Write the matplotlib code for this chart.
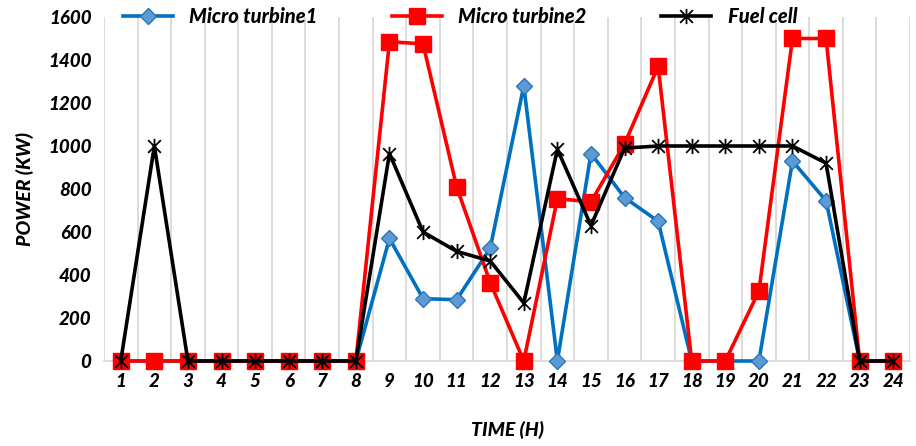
import numpy as np
import matplotlib.pyplot as plt
from matplotlib.path import Path

hours = list(range(1, 25))
micro_turbine1 = [0, 0, 0, 0, 0, 0, 0, 0, 570, 290, 285, 525, 1280, 0,
                  965, 760, 650, 0, 0, 0, 930, 745, 0, 0]
micro_turbine2 = [0, 0, 0, 0, 0, 0, 0, 0, 1485, 1475, 810, 365, 0, 755,
                  740, 1010, 1370, 0, 0, 325, 1500, 1500, 0, 0]
fuel_cell = [0, 1000, 0, 0, 0, 0, 0, 0, 965, 600, 510, 465, 270, 985,
             630, 990, 1000, 1000, 1000, 1000, 1000, 920, 0, 0]
y_ticks = [0, 200, 400, 600, 800, 1000, 1200, 1400, 1600]

plt.rcParams['font.family'] = ['Lato', 'DejaVu Sans']
W = 900

# excel style star: X plus vertical bar
star = Path([(-1, -1), (1, 1), (-1, 1), (1, -1), (0, -1.2), (0, 1.2)],
            [Path.MOVETO, Path.LINETO, Path.MOVETO, Path.LINETO, Path.MOVETO, Path.LINETO])

fig = plt.figure(figsize=(9.16, 4.46), dpi=100, facecolor="white")
ax = fig.add_axes([0.1135, 0.1906, 0.88, 0.7713])

for b in np.arange(0.5, 25, 1):
    ax.axvline(b, color="#d9d9d9", lw=1.3, zorder=0)

ax.plot(hours, micro_turbine1, color="#0070c0", lw=2.6, marker="D", ms=8,
        mfc="#5b9bd5", mec="#2e75b6", mew=1, label="Micro turbine1", zorder=3, clip_on=False)
ax.plot(hours, micro_turbine2, color="#ff0000", lw=2.6, marker="s", ms=11,
        mfc="#ff0000", mec="#ff0000", label="Micro turbine2", zorder=4, clip_on=False)
ax.plot(hours, fuel_cell, color="black", lw=2.6, marker=star, ms=11,
        mew=1.3, mec="black", label="Fuel cell", zorder=5, clip_on=False)

ax.set_xlim(0.5, 24.5)
ax.set_ylim(0, 1600)
ax.set_xticks(hours)
ax.set_yticks(y_ticks)
ax.tick_params(length=0, labelsize=13.5, pad=9)
for lab in ax.get_xticklabels() + ax.get_yticklabels():
    lab.set_fontweight(W)
    lab.set_fontstyle("italic")
for s in ["top", "right", "left"]:
    ax.spines[s].set_visible(False)
ax.spines["bottom"].set_color("#d9d9d9")
ax.spines["bottom"].set_linewidth(1.3)

ax.set_xlabel("TIME (H)", fontsize=14, fontweight=W, fontstyle="italic", labelpad=22)
ax.set_ylabel("POWER (KW)", fontsize=14, fontweight=W, fontstyle="italic", labelpad=10)

leg = fig.legend(loc="center", bbox_to_anchor=(0.502, 0.962), ncol=3, frameon=False,
                 prop={"weight": W, "style": "italic", "size": 14.5},
                 columnspacing=3.7, handlelength=2.5, handletextpad=0.8)

fig.savefig("out.png", dpi=100, facecolor="white")
